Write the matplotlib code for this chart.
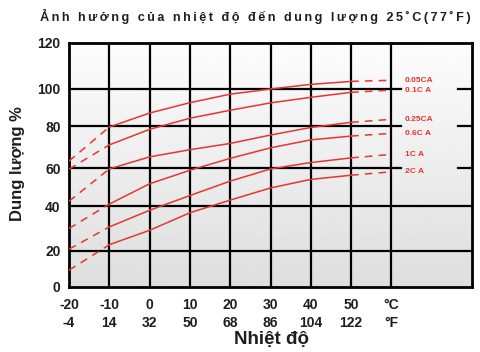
import numpy as np
import matplotlib
matplotlib.use("Agg")
import matplotlib.pyplot as plt

plt.rcParams['font.family'] = ['Liberation Sans', 'DejaVu Sans']

# ---- data ----
temps_c = [-20, -10, 0, 10, 20, 30, 40, 50, 60]
temps_f = ["-4", "14", "32", "50", "68", "86", "104", "122", "°F"]
temps_c_lbl = ["-20", "-10", "0", "10", "20", "30", "40", "50", "°C"]

series_names = ["0.05CA", "0.1C A", "0.25CA", "0.6C A", "1C A", "2C A"]
cap_005 = [63.3, 79.5, 87.0, 92.6, 97.2, 100.0, 102.0, 103.3, 103.8]
cap_01 = [59.4, 71.0, 78.4, 84.2, 88.5, 92.5, 95.5, 98.2, 99.4]
cap_025 = [42.5, 59.5, 65.3, 68.7, 71.7, 75.7, 79.3, 82.0, 83.6]
cap_06 = [30.0, 41.0, 51.7, 58.8, 64.6, 69.6, 73.4, 75.2, 76.5]
cap_1 = [20.8, 30.7, 38.1, 45.5, 53.1, 59.5, 62.6, 64.8, 66.5]
cap_2 = [9.3, 22.8, 29.2, 37.0, 43.1, 49.5, 54.0, 56.2, 58.0]
all_caps = [cap_005, cap_01, cap_025, cap_06, cap_1, cap_2]

y_ticks = [0, 20, 40, 60, 80, 100, 120]
# grid spacing of the original drawing (relative units), slightly uneven
y_tick_pos = [0, 36, 81, 119, 161, 198, 244]

title = "Ảnh hưởng của nhiệt độ đến dung lượng 25˚C(77˚F)"

RED = '#e8352f'
TXT = '#1e1e1e'

fig = plt.figure(figsize=(4.8, 3.52), dpi=100)
ax = fig.add_axes([69/480, 65/352, 403/480, 244/352])

def fwd(y):
    return np.interp(y, y_ticks, y_tick_pos)

def inv(p):
    return np.interp(p, y_tick_pos, y_ticks)

ax.set_yscale('function', functions=(fwd, inv))
ax.set_xlim(-20, 80)
ax.set_ylim(0, 120)

# background gradient (top light, bottom light grey)
grad = np.linspace(0.99, 0.87, 256).reshape(-1, 1)
ax.imshow(grad, extent=[0, 1, 0, 1], transform=ax.transAxes, cmap='gray',
          vmin=0, vmax=1, aspect='auto', zorder=0, origin='upper')

# grid lines
label_gap = (62.5, 76.5)
for yv in y_ticks[1:-1]:
    if yv in (60, 80, 100):
        ax.plot([-20, label_gap[0]], [yv, yv], color='black', lw=1.6, zorder=1)
        ax.plot([label_gap[1], 80], [yv, yv], color='black', lw=1.6, zorder=1)
    else:
        ax.axhline(yv, color='black', lw=1.6, zorder=1)
for xv in temps_c[1:]:
    ax.axvline(xv, color='black', lw=1.6, zorder=1)

# curves
for name, cap in zip(series_names, all_caps):
    ax.plot(temps_c[0:2], cap[0:2], color=RED, lw=1.1, dashes=(5, 4), zorder=3)
    ax.plot(temps_c[1:8], cap[1:8], color=RED, lw=1.1, zorder=3)
    ax.plot(temps_c[7:9], cap[7:9], color=RED, lw=1.1, dashes=(5, 4), zorder=3)
    ax.text(63.3, cap[-1], name, color=RED, fontsize=6, fontweight='bold',
            ha='left', va='center', zorder=4)

for sp in ax.spines.values():
    sp.set_linewidth(2.0)
    sp.set_color('black')

ax.set_yticks(y_ticks)
ax.set_yticklabels([str(v) for v in y_ticks], fontsize=10, fontweight='bold', color=TXT)
ax.set_xticks(temps_c)
ax.set_xticklabels([f"{c}\n{f}" for c, f in zip(temps_c_lbl, temps_f)],
                   fontsize=10, fontweight='bold', color=TXT, linespacing=1.35)
ax.tick_params(axis='both', length=0)
ax.tick_params(axis='x', pad=8)
ax.tick_params(axis='y', pad=6)

# title with wide letter spacing
spaced_title = "\u2009".join(title)
fig.text(40/480, 1 - 21/352, spaced_title,
         fontsize=9.1, fontweight='bold', color=TXT, ha='left', va='baseline')
fig.text(17.5/480, 1 - 164/352, "Dung lượng %", rotation=90, fontsize=12,
         fontweight='bold', color=TXT, ha='center', va='center')
fig.text(272/480, 1 - 344/352, "Nhiệt độ", fontsize=13.5, fontweight='bold',
         color=TXT, ha='center', va='baseline')

fig.savefig("out.png", dpi=100)
